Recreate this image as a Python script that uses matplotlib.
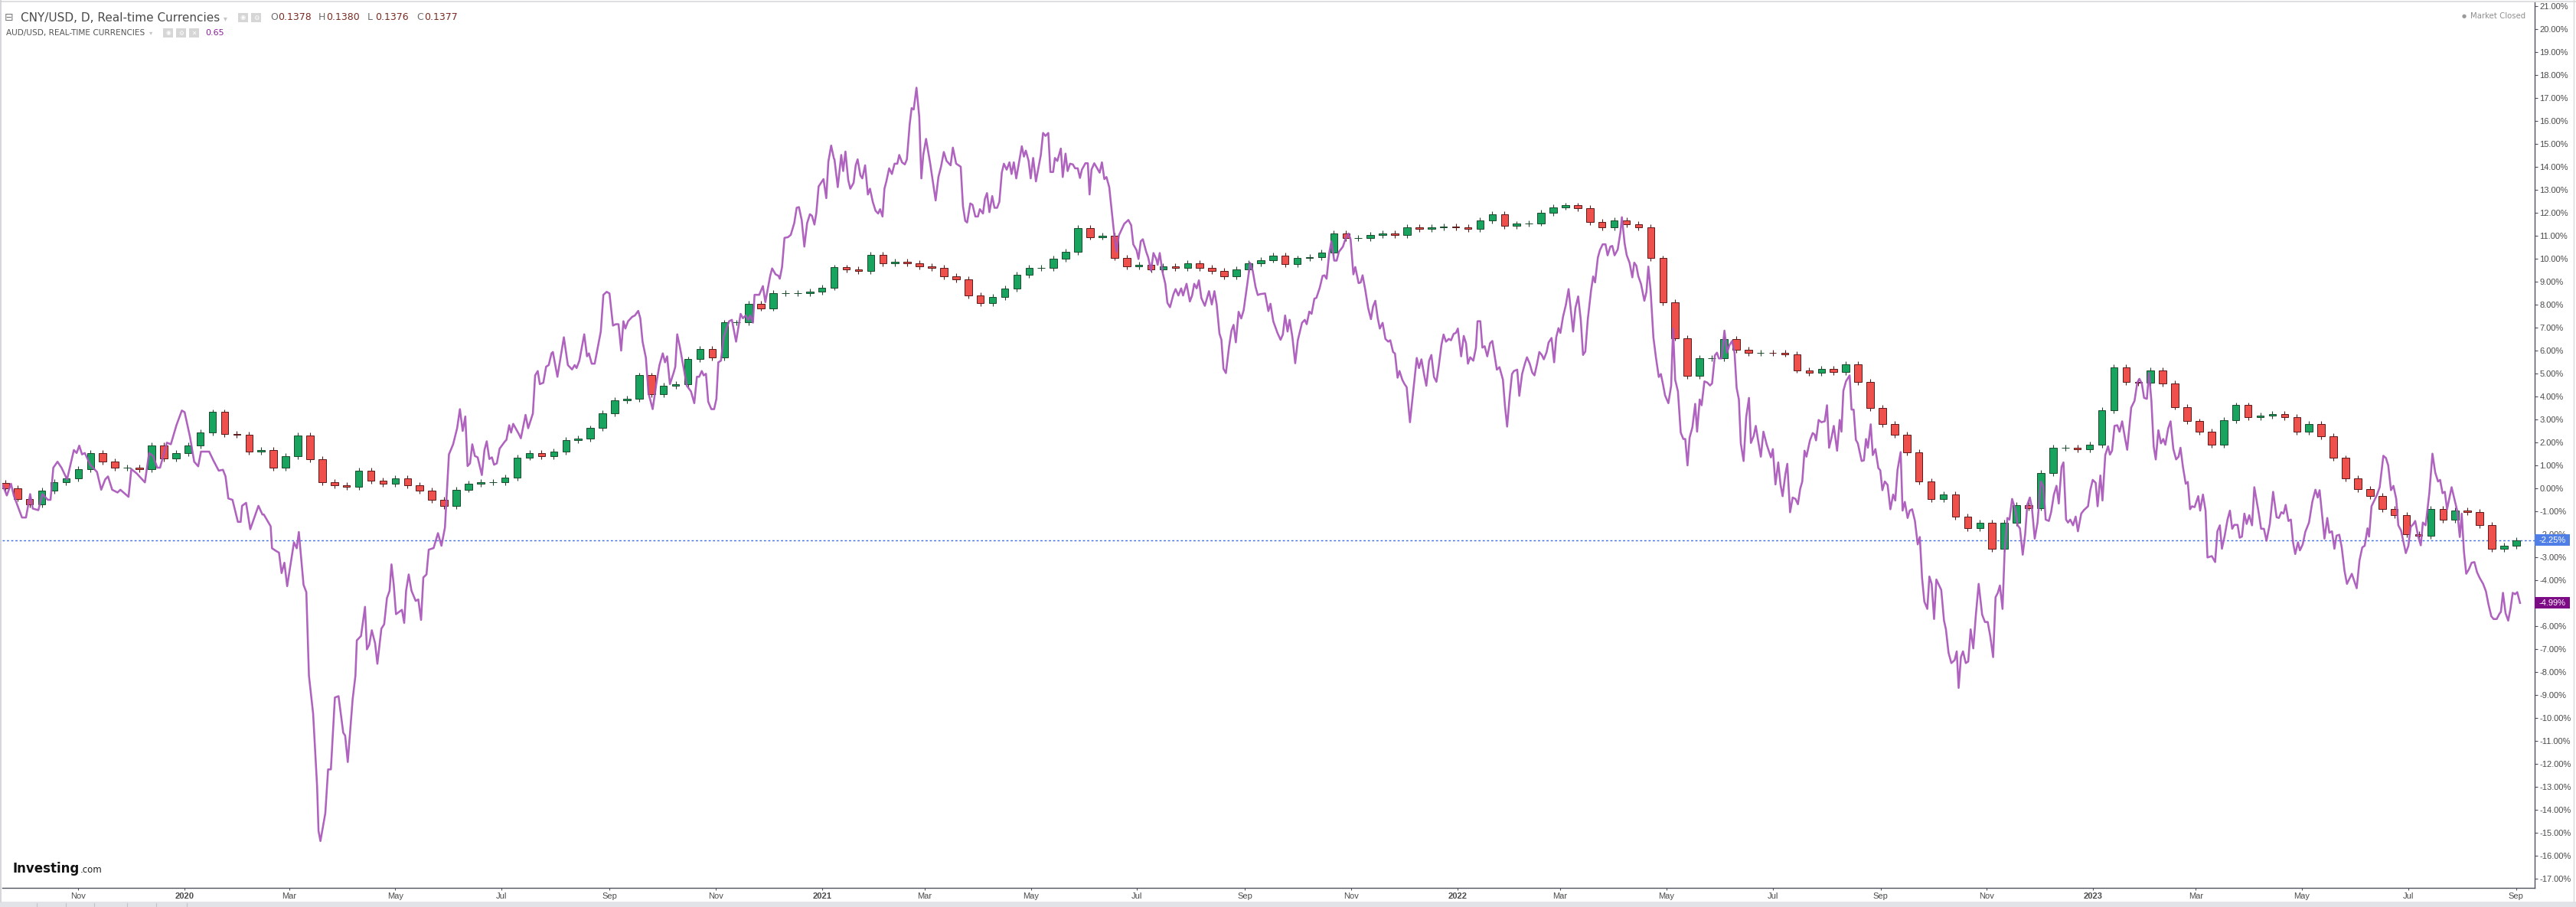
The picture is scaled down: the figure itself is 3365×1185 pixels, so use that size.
import numpy as np
import pandas as pd
import matplotlib
matplotlib.use("Agg")
import matplotlib.pyplot as plt
import matplotlib.dates as mdates
import matplotlib.transforms as mtransforms
from matplotlib.patches import Rectangle
from matplotlib.lines import Line2D

# ---------------------------------------------------------------- data
start_date = "2019-09-17"          # first bar of the chart (0 % reference)
first_week = "2019-09-20"          # first weekly candle
cny_first_open = 0.25

# CNY/USD weekly closes, % change since start
cny_close = [
    0.0, -0.45, -0.7, -0.1, 0.26, 0.42, 0.84, 1.54, 1.16, 0.9,
    0.9, 0.84, 1.86, 1.3, 1.54, 1.86, 2.43, 3.32, 2.37, 2.33,
    1.6, 1.67, 0.9, 1.41, 2.3, 1.28, 0.26, 0.13, 0.07, 0.77,
    0.33, 0.2, 0.45, 0.13, -0.1, -0.5, -0.76, -0.05, 0.2, 0.26,
    0.26, 0.46, 1.35, 1.54, 1.41, 1.6, 2.1, 2.18, 2.62, 3.26,
    3.84, 3.9, 4.92, 4.09, 4.47, 4.54, 5.62, 6.07, 5.69, 7.22,
    7.22, 8.05, 7.85, 8.49, 8.49, 8.49, 8.56, 8.75, 9.62, 9.54,
    9.48, 10.18, 9.8, 9.86, 9.8, 9.67, 9.61, 9.23, 9.1, 8.4,
    8.08, 8.33, 8.71, 9.29, 9.61, 9.61, 9.99, 10.31, 11.33, 10.95,
    11.01, 10.05, 9.67, 9.74, 9.54, 9.67, 9.61, 9.8, 9.61, 9.48,
    9.23, 9.54, 9.8, 9.95, 10.15, 9.76, 10.02, 10.06, 10.27, 11.1,
    10.91, 10.91, 11.04, 11.1, 11.04, 11.36, 11.3, 11.36, 11.4, 11.36,
    11.3, 11.68, 11.93, 11.42, 11.52, 11.55, 12.0, 12.25, 12.32, 12.21,
    11.61, 11.36, 11.68, 11.49, 11.36, 10.02, 8.11, 6.55, 4.89, 5.66,
    5.66, 6.49, 6.04, 5.91, 5.91, 5.89, 5.85, 5.15, 5.02, 5.21,
    5.08, 5.4, 4.64, 3.49, 2.79, 2.34, 1.58, 0.3, -0.46, -0.27,
    -1.23, -1.74, -1.49, -2.63, -1.49, -0.72, -0.85, 0.68, 1.77, 1.77,
    1.7, 1.9, 3.4, 5.28, 4.64, 4.61, 5.15, 4.57, 3.55, 2.92,
    2.47, 1.9, 2.98, 3.62, 3.11, 3.17, 3.23, 3.11, 2.47, 2.79,
    2.28, 1.32, 0.43, -0.02, -0.34, -0.91, -1.17, -2.0, -2.06, -0.91,
    -1.36, -0.97, -1.04, -1.61, -2.63, -2.51, -2.25,
]

# AUD/USD line: days after start_date and % change since start
aud_day_1 = [
    1.6, 3.9, 6.3, 7.9, 12.6, 14.9, 17.3, 18.8, 22.0, 24.3,
    27.5, 29.0, 30.6, 33.0, 35.3, 38.5, 42.4, 44.0, 45.5, 47.1,
    48.7, 51.8, 55.7, 58.1, 60.4, 62.0, 64.4, 67.5, 69.1, 73.8,
    75.4, 78.5, 81.6, 83.2, 85.6, 87.9, 90.3, 91.9, 95.8, 98.1,
    101.3, 104.4, 106.0, 109.1, 111.5, 113.8, 115.4, 120.1, 122.5, 125.6,
    128.0, 129.5, 131.1, 133.5, 136.6, 138.2, 139.0, 141.3, 143.7, 148.4,
    150.7, 151.5, 155.4, 156.2, 158.6, 160.2, 161.7, 163.3, 164.9, 168.8,
    170.4, 171.6, 174.3, 175.9, 177.4, 179.8, 182.1, 182.9, 184.0, 186.8,
    188.4, 190.0, 192.3, 194.4, 197.1, 198.2, 199.7, 202.5, 204.1, 204.9,
    207.3, 209.6, 210.7, 212.0, 213.5, 215.4, 216.7, 219.0, 220.6, 222.2,
    223.7, 224.8, 226.1, 227.4, 230.8, 232.1, 233.2, 234.7, 236.3, 238.7,
    240.2, 241.8, 243.1, 244.9, 246.2, 249.0, 251.5, 253.5,
]
aud_pct_1 = [
    0.14, -0.31, 0.2, -0.31, -1.27, -1.27, -0.25, -0.88, -0.95, -0.25,
    -0.5, -0.5, 0.9, 1.16, 0.9, 0.39, 1.67, 1.54, 1.86, 1.48,
    1.54, 1.03, 0.71, -0.06, 0.39, 0.52, -0.06, -0.18, -0.06, -0.37,
    0.84, 0.65, 0.39, 0.26, 1.54, 1.41, 0.9, 0.9, 1.99, 1.92,
    2.75, 3.39, 3.32, 2.24, 1.16, 0.96, 1.6, 1.6, 1.22, 0.77,
    0.81, 0.52, -0.44, -0.5, -1.46, -1.46, -0.76, -0.63, -1.78, -0.76,
    -1.14, -1.14, -1.65, -2.61, -2.73, -2.8, -3.69, -3.24, -4.26, -2.35,
    -2.61, -1.9, -4.2, -4.52, -8.16, -9.81, -13.0, -14.92, -15.36, -14.15,
    -12.24, -12.24, -9.11, -9.05, -10.64, -10.77, -11.92, -9.18, -8.16, -6.62,
    -6.43, -5.16, -7.01, -6.82, -6.18, -6.75, -7.64, -6.11, -5.92, -4.78,
    -4.46, -3.31, -4.2, -5.48, -5.29, -5.86, -4.46, -3.75, -4.46, -4.9,
    -4.84, -5.73, -3.88, -3.75, -2.67, -2.6, -1.95, -2.5,
]
aud_day_2 = [
    255.5, 257.8, 260.2, 262.5, 264.1, 265.7, 267.2, 268.5, 269.9, 271.2,
    272.7, 274.3, 276.7, 278.2, 279.5, 281.0, 282.5, 283.7, 285.3, 286.9,
    290.0, 290.8, 292.4, 293.5, 294.7, 297.9, 299.1, 301.8, 303.3, 306.0,
    307.3, 308.8, 310.0, 312.0, 313.6, 315.1, 316.7, 317.5, 320.1, 323.8,
    326.1, 328.5, 330.0, 331.1, 332.7, 335.5, 337.1, 338.2, 339.8, 341.5,
    345.0, 346.5, 348.4, 350.0, 352.0, 353.6, 355.2, 356.7, 358.0, 359.1,
    360.7, 363.0, 364.6, 366.5, 367.7, 369.0, 370.9, 372.4, 374.8, 377.1,
    378.7, 380.6, 381.9, 383.1, 384.7, 386.9, 387.8, 388.9, 390.5, 394.4,
    396.8, 398.7, 400.2, 401.5, 403.0, 404.1, 405.4, 406.7, 408.5, 410.1,
    411.4, 412.5, 414.0, 415.6, 417.2, 418.7, 420.3, 422.7, 425.3, 426.6,
    428.2, 429.7, 430.8, 432.4, 433.3, 436.0, 438.1, 439.5, 442.3, 443.4,
    445.4, 447.0, 447.8, 449.1, 450.5, 452.5, 454.1, 456.1, 457.5, 458.8,
    460.4, 461.9, 463.5, 465.1, 466.3, 467.7, 468.8, 470.1, 472.9, 474.5,
    475.7, 477.3, 478.9,
]
aud_pct_2 = [
    -1.71, 1.48, 1.92, 2.62, 3.45, 2.5, 3.13, 0.97, 1.09, 1.92,
    1.41, 1.35, 0.58, 1.67, 2.05, 1.28, 1.35, 1.03, 1.09, 1.73,
    2.05, 2.11, 2.75, 2.43, 2.81, 2.37, 2.18, 3.2, 2.62, 3.26,
    4.92, 5.11, 4.54, 4.6, 5.3, 5.37, 5.88, 5.94, 4.86, 6.58,
    5.37, 5.18, 5.37, 5.24, 5.56, 6.71, 5.75, 5.88, 5.43, 5.43,
    6.83, 8.43, 8.56, 8.49, 7.09, 7.15, 7.15, 6.0, 7.28, 6.96,
    7.28, 7.47, 7.53, 7.73, 7.41, 6.39, 5.69, 4.15, 3.45, 4.66,
    5.37, 5.88, 5.49, 5.75, 4.54, 5.05, 5.3, 6.71, 6.13, 4.47,
    4.22, 3.71, 4.86, 4.86, 5.11, 4.92, 4.99, 3.77, 3.45, 3.45,
    3.9, 5.49, 5.56, 6.58, 6.96, 7.28, 7.34, 6.39, 7.6, 7.41,
    7.53, 7.34, 7.53, 7.22, 8.43, 8.43, 8.81, 8.11, 9.26, 9.58,
    9.32, 9.26, 9.13, 9.64, 10.91, 10.94, 11.04, 11.55, 12.22, 12.25,
    11.68, 10.53, 11.55, 11.94, 11.87, 11.49, 12.0, 13.15, 13.47, 12.64,
    14.23, 14.93, 14.36,
]
aud_day_3 = [
    479.2, 481.1, 483.1, 484.2, 485.5, 487.1, 488.3, 490.2, 491.4, 492.5,
    494.1, 495.2, 496.8, 498.4, 499.6, 501.2, 502.8, 504.3, 505.4, 506.8,
    507.9, 509.0, 510.6, 512.2, 513.7, 515.3, 516.4, 518.0, 519.6, 520.8,
    522.4, 523.5, 524.7, 526.3, 527.9, 529.1, 530.2, 531.8, 534.2, 537.3,
    538.9, 540.4, 542.0, 543.6, 545.9, 547.2, 549.1, 551.7, 553.0, 554.3,
    555.4, 557.2, 558.5, 560.1, 561.6, 562.7, 564.5, 565.6, 566.8, 568.2,
    569.8, 571.1, 572.6, 573.9, 575.3, 576.5, 578.1, 579.7, 580.9, 582.2,
    583.6, 586.8, 588.0, 589.1, 590.7, 591.9, 593.3, 594.9, 597.7, 599.0,
    600.4, 602.0, 603.2, 604.8, 605.8, 607.2, 609.2, 610.3, 611.9, 613.1,
    614.5, 616.1, 617.4, 618.9, 620.2, 621.3, 623.3, 624.7, 625.7, 626.8,
    628.4, 631.5, 632.8, 634.2, 635.4, 637.0, 640.1, 641.2, 642.5, 645.6,
    648.0, 649.6, 650.8, 652.7, 653.8, 655.1, 656.3, 658.2, 659.4, 661.0,
    662.4, 664.0, 664.8, 666.0, 667.6, 669.2, 670.4, 671.9, 673.9, 675.1,
    676.7, 678.3, 679.4, 681.4, 683.3, 684.6, 685.8, 687.2, 688.5, 689.9,
    691.9, 694.3, 695.9, 697.4, 698.7, 700.3, 701.4, 702.6, 704.0, 705.8,
    707.2, 708.4, 709.7, 711.3, 712.8, 714.2, 716.3, 717.9, 719.4, 721.0,
    722.3, 723.7,
]
aud_pct_3 = [
    14.33, 13.12, 14.52, 13.82, 14.67, 13.43, 13.05, 13.31, 14.07, 14.33,
    13.63, 13.5, 14.07, 12.8, 13.05, 12.48, 12.09, 11.97, 12.16, 11.84,
    13.05, 13.37, 13.94, 13.69, 14.14, 14.14, 14.52, 14.2, 14.11, 14.33,
    15.86, 16.56, 16.5, 17.45, 16.18, 13.5, 14.52, 15.22, 14.14, 12.54,
    13.56, 14.01, 14.65, 14.26, 14.07, 14.84, 14.14, 14.01, 12.29, 11.65,
    11.58, 12.41, 12.35, 11.84, 11.84, 12.16, 11.97, 12.61, 12.86, 12.03,
    12.73, 12.22, 12.22, 12.48, 13.75, 14.14, 13.88, 14.2, 13.69, 14.2,
    13.5, 14.9, 14.45, 14.71, 14.26, 13.5, 14.39, 13.37, 14.52, 15.48,
    15.35, 15.48, 13.78, 13.78, 14.39, 14.26, 14.8, 13.56, 14.58, 13.82,
    14.14, 14.11, 13.94, 13.94, 13.52, 13.88, 14.16, 14.16, 12.8, 13.88,
    14.16, 13.75, 14.2, 13.47, 13.56, 13.12, 10.88, 10.31, 11.01, 11.52,
    11.69, 11.46, 10.63, 10.37, 9.99, 10.76, 10.85, 10.31, 10.05, 9.48,
    10.25, 9.99, 9.74, 10.25, 9.42, 8.91, 8.08, 7.89, 8.46, 8.68,
    8.4, 8.71, 8.4, 8.91, 8.14, 8.4, 8.91, 8.71, 9.06, 8.29,
    7.95, 8.59, 8.01, 8.59, 8.01, 6.74, 6.48, 5.21, 5.02, 6.16,
    6.87, 7.12, 6.36, 7.69, 7.4, 7.76, 8.91, 9.82, 9.48, 8.78,
    8.42, 8.46,
]
aud_day_4 = [
    726.5, 728.4, 729.6, 731.2, 733.6, 735.4, 736.7, 738.0, 739.4, 740.6,
    742.2, 743.8, 745.3, 747.7, 749.3, 750.4, 751.9, 753.2, 754.8, 756.0,
    757.9, 759.5, 760.6, 761.8, 763.4, 764.6, 766.2, 767.6, 768.9, 771.2,
    772.8, 774.4, 775.6, 777.2, 778.3, 780.2, 781.4, 782.5, 784.1, 785.7,
    787.3, 788.5, 789.8, 791.2, 792.4, 794.0, 795.6, 797.2, 798.4, 800.0,
    801.1, 802.6, 803.7, 805.3, 806.6, 807.8, 809.7, 811.3, 813.6, 814.9,
    816.3, 817.9, 819.1, 820.7, 822.0, 823.5, 824.9, 826.2, 827.8, 829.0,
    830.4, 832.0, 833.3, 834.8, 836.1, 837.2, 839.1, 840.6, 841.9, 843.0,
    844.3, 846.1, 847.6, 848.5, 850.1, 851.3, 852.6, 854.1, 855.7, 857.0,
    858.4, 859.6, 861.1, 863.1, 864.2, 865.5, 867.0, 868.3, 869.4, 871.3,
    872.5, 874.1, 875.7, 876.9, 878.5, 879.9, 881.2, 882.7, 884.0, 885.4,
    886.6, 888.2, 889.3, 891.0, 892.5, 893.7, 895.0, 896.1, 897.6, 899.2,
    900.8, 903.4, 904.7, 906.3, 907.8, 909.1, 910.4, 911.8, 913.7, 914.9,
    916.0, 917.6, 918.8, 920.4, 922.0, 923.2, 924.8, 925.9, 927.2, 929.0,
    930.6, 931.4, 933.0, 934.2, 935.8, 937.4, 938.5, 939.7, 940.8, 942.4,
    944.3, 945.5, 946.6, 947.9, 949.5, 951.0, 952.6, 953.8, 955.0, 956.2,
    958.1, 959.7, 960.8, 962.0, 963.6, 965.2,
]
aud_pct_4 = [
    8.49, 7.72, 8.04, 7.28, 6.77, 6.47, 6.7, 7.53, 6.83, 7.34,
    6.58, 5.45, 6.45, 7.21, 7.34, 7.15, 7.7, 7.6, 8.26, 8.3,
    8.74, 9.25, 9.28, 9.13, 10.28, 10.76, 9.92, 9.92, 10.3, 10.53,
    10.89, 11.1, 10.85, 9.32, 9.64, 8.94, 8.97, 9.28, 8.62, 7.85,
    7.37, 7.92, 8.17, 7.41, 6.96, 7.21, 6.51, 6.39, 6.45, 5.94,
    5.87, 4.82, 5.11, 4.73, 4.54, 4.41, 2.88, 4.03, 5.68, 5.24,
    5.62, 4.92, 4.47, 5.56, 5.81, 4.85, 4.64, 5.3, 6.26, 6.7,
    6.39, 6.51, 6.45, 6.73, 6.77, 6.96, 5.75, 6.64, 6.32, 5.43,
    5.71, 5.56, 6.13, 7.28, 7.28, 6.13, 6.19, 5.75, 6.32, 6.42,
    5.75, 5.17, 5.28, 4.73, 3.64, 2.69, 4.03, 4.98, 5.11, 5.17,
    4.03, 4.98, 5.43, 5.71, 5.43, 5.05, 4.92, 5.43, 5.94, 5.81,
    5.62, 5.94, 6.35, 6.55, 5.49, 6.58, 6.98, 6.77, 7.47, 7.98,
    8.68, 6.83, 7.85, 8.36, 7.34, 5.81, 5.96, 7.34, 8.62, 9.23,
    8.97, 10.05, 10.38, 10.63, 10.63, 10.15, 10.53, 10.56, 10.15, 10.4,
    11.17, 11.81, 10.66, 10.15, 9.83, 9.19, 9.83, 9.7, 9.25, 8.9,
    8.17, 8.55, 9.66, 8.62, 6.58, 5.68, 4.85, 4.98, 4.54, 4.05,
    3.71, 4.47, 6.96, 4.73, 4.22, 2.43,
]
aud_day_5 = [
    966.7, 967.8, 969.1, 970.3, 971.9, 973.5, 974.6, 976.1, 977.2, 978.8,
    980.4, 982.0, 983.2, 984.8, 986.0, 987.1, 988.7, 990.3, 991.8, 993.1,
    994.7, 996.1, 997.3, 998.6, 999.7, 1001.3, 1002.8, 1004.4, 1005.5, 1007.1,
    1008.3, 1009.9, 1011.2, 1012.7, 1014.6, 1017.0, 1018.1, 1019.6, 1021.2, 1022.5,
    1023.7, 1025.3, 1026.4, 1028.0, 1029.5, 1031.1, 1032.5, 1033.8, 1035.0, 1036.3,
    1037.4, 1039.4, 1041.0, 1042.1, 1042.9, 1044.4, 1046.0, 1047.9, 1049.2, 1050.4,
    1051.8, 1053.1, 1055.0, 1056.5, 1057.5, 1058.6, 1060.1, 1062.2, 1063.3, 1064.5,
    1065.8, 1066.9, 1069.1, 1070.4, 1071.6, 1072.7, 1074.3, 1075.5, 1077.0, 1078.7,
    1079.8, 1081.0, 1082.4, 1084.0, 1085.6, 1087.2, 1088.4, 1089.7, 1091.5, 1092.6,
    1093.9, 1095.5, 1096.7, 1098.1, 1099.7, 1101.3, 1102.5, 1103.8, 1105.1, 1106.8,
    1108.0, 1109.3, 1110.7, 1112.0, 1114.8, 1116.4, 1117.5, 1119.0, 1120.6, 1122.5,
    1123.7, 1124.8, 1126.1, 1127.3, 1128.9, 1130.3, 1131.7, 1133.2, 1134.7, 1136.3,
    1138.3, 1139.9, 1141.5, 1143.0, 1144.6, 1146.0, 1147.3, 1148.5, 1150.0, 1151.2,
    1152.8, 1154.0, 1155.5, 1157.5, 1158.7, 1160.0, 1161.6, 1163.0, 1164.2, 1165.7,
    1166.9, 1168.5, 1170.1, 1172.0, 1173.5, 1174.8, 1176.6, 1177.9, 1179.5, 1181.0,
    1182.3, 1183.9, 1185.0, 1186.5, 1187.6, 1188.9, 1190.5, 1192.0, 1193.3, 1195.2,
    1196.7, 1199.1, 1200.4, 1201.8, 1203.5, 1204.6, 1206.2, 1207.4,
]
aud_pct_5 = [
    2.15, 2.15, 1.0, 2.21, 2.66, 3.68, 2.47, 3.87, 3.62, 4.66,
    4.61, 4.48, 4.57, 5.79, 5.91, 5.66, 5.66, 6.87, 5.91, 6.23,
    6.42, 5.91, 4.38, 3.87, 1.96, 1.19, 3.11, 3.94, 1.98, 2.28,
    2.72, 1.96, 1.38, 2.47, 1.9, 1.35, 1.71, 0.17, 1.13, 0.17,
    -0.34, 0.62, 1.07, -1.04, -0.4, -0.46, -0.69, -0.02, 0.3, 1.64,
    1.38, 2.09, 2.41, 2.34, 2.09, 2.98, 2.88, 2.92, 3.62, 1.77,
    2.21, 2.72, 1.64, 2.98, 2.47, 4.25, 4.66, 4.92, 3.43, 3.43,
    2.11, 1.96, 1.19, 1.22, 2.15, 1.77, 2.79, 1.45, 1.71, 0.88,
    0.79, -0.08, 0.3, 0.15, -0.91, -0.27, -0.53, 0.81, 1.58, -0.97,
    -0.59, -1.29, -0.97, -0.91, -1.42, -2.44, -2.12, -3.91, -4.93, -5.25,
    -3.84, -4.16, -5.69, -3.97, -4.42, -5.76, -6.14, -7.16, -7.61, -7.48,
    -7.1, -8.69, -7.35, -7.1, -7.61, -7.54, -6.14, -6.97, -5.5, -4.16,
    -5.5, -5.82, -5.82, -6.46, -7.35, -4.74, -4.55, -4.23, -5.25, -2.76,
    -1.29, -1.36, -0.46, -0.97, -1.61, -1.74, -2.89, -2.0, -0.72, -0.4,
    -0.85, -2.19, -1.49, 0.3, 0.07, -1.36, -1.42, -1.04, -0.27, 0.11,
    -0.66, 0.94, 1.13, -1.36, -1.49, -1.36, -1.61, -1.23, -1.87, -1.1,
    -0.95, -0.78, -0.08, 0.37, 0.24, -0.78, 0.56, -0.53,
]
aud_day_6 = [
    1209.0, 1210.6, 1211.7, 1212.9, 1214.3, 1215.9, 1217.2, 1218.7, 1220.3, 1221.6,
    1223.9, 1225.8, 1227.4, 1228.6, 1230.0, 1231.3, 1232.9, 1234.1, 1235.5, 1236.8,
    1238.0, 1239.5, 1241.0, 1242.3, 1243.5, 1245.1, 1246.5, 1248.1, 1249.7, 1251.1,
    1252.2, 1253.6, 1255.2, 1256.4, 1257.7, 1258.8, 1260.3, 1262.4, 1263.5, 1265.1,
    1266.6, 1267.7, 1270.2, 1272.1, 1273.4, 1274.8, 1276.0, 1277.6, 1279.2, 1280.6,
    1281.9, 1283.1, 1285.0, 1286.2, 1287.5, 1288.9, 1290.2, 1291.7, 1293.3, 1294.6,
    1297.2, 1298.5, 1300.1, 1301.6, 1303.5, 1305.4, 1307.4, 1308.7, 1310.1, 1311.4,
    1312.6, 1314.2, 1315.6, 1316.9, 1318.1, 1319.7, 1320.8, 1322.4, 1323.9, 1326.0,
    1327.9, 1329.7, 1331.0, 1332.1, 1333.7, 1334.9, 1336.5, 1337.7, 1339.2, 1340.6,
    1341.8, 1343.4, 1344.8, 1346.4, 1347.8, 1350.6, 1353.4, 1355.0, 1356.6, 1358.0,
    1359.6, 1360.5, 1361.9, 1363.5, 1365.1, 1366.6, 1368.7, 1370.2, 1371.5, 1373.1,
    1374.5, 1376.1, 1377.3, 1378.9, 1381.6, 1383.1, 1384.4, 1386.0, 1387.0, 1388.6,
    1390.2, 1391.4, 1393.0, 1395.1, 1396.9, 1398.5, 1400.1, 1401.3, 1402.7, 1404.0,
    1405.3, 1406.7, 1407.9, 1409.5, 1411.1, 1412.6, 1413.7, 1415.0, 1416.3, 1417.8,
    1419.4, 1421.0, 1422.5, 1424.1, 1426.0, 1427.6, 1429.1, 1430.7, 1432.0, 1433.8,
    1435.4, 1436.2, 1437.4, 1438.9, 1440.4, 1441.7, 1443.0, 1444.4, 1445.6, 1447.2,
]
aud_pct_6 = [
    1.45, 1.83, 1.47, 1.64, 2.72, 2.75, 2.47, 2.92, 2.21, 1.68,
    3.52, 3.81, 4.61, 4.77, 4.57, 3.94, 3.9, 5.02, 3.81, 1.83,
    1.26, 2.53, 1.96, 2.15, 1.9, 2.6, 2.92, 1.71, 1.26, 1.38,
    1.77, 0.94, 0.2, 0.28, -0.91, -0.78, -0.82, -0.34, -0.97, -0.27,
    -0.97, -3.01, -2.95, -3.21, -1.87, -1.61, -2.63, -2.06, -1.36, -0.97,
    -1.76, -1.59, -1.59, -2.15, -2.1, -1.1, -1.55, -1.17, -1.61, 0.05,
    -1.1, -1.76, -1.76, -2.28, -1.55, -0.15, -1.26, -1.29, -1.04, -1.1,
    -0.72, -1.42, -1.36, -2.38, -2.86, -2.35, -2.7, -2.44, -1.89, -1.49,
    -0.59, -0.06, -0.4, -0.08, -1.29, -2.19, -1.29, -1.93, -1.87, -2.63,
    -2.06, -2.02, -2.57, -3.59, -4.16, -3.72, -4.35, -3.14, -2.57, -2.5,
    -1.74, -2.1, -0.78, -0.53, -0.27, 0.05, 1.42, 1.32, 1.0, -0.08,
    0.11, -0.46, -1.61, -1.84, -2.82, -2.5, -1.68, -1.55, -1.42, -2.06,
    -2.48, -1.49, -1.61, -0.21, 1.51, 0.69, 0.3, 0.37, -0.21, -0.15,
    -0.91, -0.4, 0.05, -0.46, -0.97, -2.12, -1.1, -2.76, -3.72, -3.53,
    -3.24, -3.21, -3.65, -3.91, -4.16, -4.48, -5.06, -5.57, -5.69, -5.69,
    -5.46, -5.38, -4.55, -5.44, -5.76, -5.25, -4.55, -4.61, -4.52, -4.99,
]

month_ticks = [
    "2019-11-01", "2020-01-01", "2020-03-01", "2020-05-01", "2020-07-01", "2020-09-01",
    "2020-11-01", "2021-01-01", "2021-03-01", "2021-05-01", "2021-07-01", "2021-09-01",
    "2021-11-01", "2022-01-01", "2022-03-01", "2022-05-01", "2022-07-01", "2022-09-01",
    "2022-11-01", "2023-01-01", "2023-03-01", "2023-05-01", "2023-07-01", "2023-09-01",
]
month_labels = [
    "Nov", "2020", "Mar", "May", "Jul", "Sep",
    "Nov", "2021", "Mar", "May", "Jul", "Sep",
    "Nov", "2022", "Mar", "May", "Jul", "Sep",
    "Nov", "2023", "Mar", "May", "Jul", "Sep",
]
y_ticks = list(range(-17, 22))
cny_last = -2.25
aud_last = -4.99
main_title = "CNY/USD, D, Real-time Currencies"
sub_title = "AUD/USD, REAL-TIME CURRENCIES"
ohlc_keys = ["O", "H", "L", "C"]
ohlc_vals = ["0.1378", "0.1380", "0.1376", "0.1377"]
aud_value = "0.65"

# segment sanity checks
for d, p in ((aud_day_1, aud_pct_1), (aud_day_2, aud_pct_2), (aud_day_3, aud_pct_3),
             (aud_day_4, aud_pct_4), (aud_day_5, aud_pct_5), (aud_day_6, aud_pct_6)):
    assert len(d) == len(p), (len(d), len(p))

aud_day = aud_day_1 + aud_day_2 + aud_day_3 + aud_day_4 + aud_day_5 + aud_day_6
aud_pct = aud_pct_1 + aud_pct_2 + aud_pct_3 + aud_pct_4 + aud_pct_5 + aud_pct_6

# ---------------------------------------------------------------- figure
W, H, DPI = 3365, 1185, 100
fig = plt.figure(figsize=(W / DPI, H / DPI), dpi=DPI, facecolor="white")
PL, PR, PT, PB = 3, 3311, 3, 1160
ax = fig.add_axes([PL / W, 1 - PB / H, (PR - PL) / W, (PB - PT) / H])
ax.set_facecolor("white")

t0 = mdates.date2num(pd.Timestamp(start_date))
ax.set_xlim(t0 + 1.3, t0 + 1455.6)
ax.set_ylim(-17.4, 21.17)

# candles
xc = mdates.date2num(pd.date_range(first_week, periods=len(cny_close), freq="7D"))
closes = np.array(cny_close, dtype=float)
opens = np.concatenate([[cny_first_open], closes[:-1]])
up = closes >= opens
WICK = 0.13
hi = np.maximum(opens, closes) + WICK
lo = np.minimum(opens, closes) - WICK
UP_FACE, UP_EDGE = "#18a45f", "#1b4a2c"
DN_FACE, DN_EDGE = "#f0504c", "#5a1a1a"
edges = np.where(up, UP_EDGE, DN_EDGE)
faces = np.where(up, UP_FACE, DN_FACE)
ax.vlines(xc, lo, hi, colors=list(edges), linewidth=0.8, zorder=3)
ax.bar(xc, closes - opens, bottom=opens, width=4.2, color=list(faces),
       edgecolor=list(edges), linewidth=0.7, zorder=4)

# AUD/USD line
ax.plot(t0 + np.array(aud_day), aud_pct, color="#a856ba", lw=1.85, alpha=0.92,
        zorder=5, solid_joinstyle="round")

# last-price dotted line
ax.axhline(cny_last, color="#3d6be2", lw=1.0, ls=(0, (2, 2)), zorder=2)

# axes styling
for s in ("top", "left"):
    ax.spines[s].set_visible(False)
for s in ("right", "bottom"):
    ax.spines[s].set_color("#50535e")
    ax.spines[s].set_linewidth(1.0)

ax.yaxis.tick_right()
ax.set_yticks(y_ticks)
ax.set_yticklabels([f"{v:.2f}%" for v in y_ticks])
ax.tick_params(axis="y", direction="out", length=3, width=0.8, colors="#50535e",
               labelcolor="#4a4a4a", labelsize=8, pad=1.5)
ax.set_xticks(mdates.date2num(pd.to_datetime(month_ticks)))
ax.set_xticklabels(month_labels)
ax.tick_params(axis="x", direction="out", length=2.5, width=0.8, colors="#50535e",
               labelcolor="#4a4a4a", labelsize=8, pad=2)
for lab in ax.get_xticklabels() + ax.get_yticklabels():
    lab.set_fontfamily("Liberation Sans")
for lab in ax.get_xticklabels():
    if lab.get_text().isdigit():
        lab.set_fontweight("bold")

# last value boxes on the price scale
trans = mtransforms.blended_transform_factory(ax.transAxes, ax.transData)
box_w = 46 / (PR - PL)
for val, col in ((cny_last, "#4f7fe6"), (aud_last, "#7d0b86")):
    ax.add_patch(Rectangle((1.0, val - 0.25), box_w, 0.5, transform=trans,
                           facecolor=col, edgecolor="none", clip_on=False, zorder=10))
    ax.text(1.0 + box_w / 2, val, f"{val:.2f}%", transform=trans, ha="center",
            va="center", color="white", fontsize=8, family="Liberation Sans", zorder=11)


# ---------------------------------------------------------------- figure decor
def fx(x):
    return x / W


def fy(y):
    return 1 - y / H


def frect(x, y, w, h, color):
    fig.add_artist(Rectangle((fx(x), fy(y + h)), w / W, h / H, transform=fig.transFigure,
                             facecolor=color, edgecolor="none"))


def fline(x0, y0, x1, y1, color, lw=1.0):
    fig.add_artist(Line2D([fx(x0), fx(x1)], [fy(y0), fy(y1)], transform=fig.transFigure,
                          color=color, lw=lw))


fline(0, 1.5, W, 1.5, "#d9d9dc", 1.2)
fline(1, 0, 1, 1178, "#d0d0d4", 1.2)
fline(3362, 0, 3362, 1178, "#d9d9dc", 1.0)
frect(0, 1178, W, 7, "#e2e3e8")
for sx in (48, 86, 123, 166, 204, 244):
    fline(sx, 1180, sx, 1185, "#c2c3c8", 0.8)

# legend line 1
fig.text(fx(6), fy(23), "\u229f", fontsize=10, color="#777777", va="center", family="DejaVu Sans")
fig.text(fx(27), fy(23), main_title, fontsize=11, color="#4a4a4a", va="center", family="DejaVu Sans")
fig.text(fx(292), fy(24), "\u25be", fontsize=7, color="#c4c4c4", va="center", family="DejaVu Sans")
for ix, glyph in ((311, "\u25c9"), (328, "\u2699")):
    frect(ix, 17, 13, 12, "#d6d6d6")
    fig.text(fx(ix + 6.5), fy(23), glyph, fontsize=6, color="white", ha="center", va="center",
             family="DejaVu Sans")
for kx, vx, k, v in zip((353, 416, 480, 544), (363, 426, 490, 554), ohlc_keys, ohlc_vals):
    fig.text(fx(kx), fy(23), k, fontsize=9, color="#6e6e6e", va="center", family="DejaVu Sans")
    fig.text(fx(vx), fy(23), v, fontsize=9, color="#7a2b22", va="center", family="DejaVu Sans")

# legend line 2
fig.text(fx(8), fy(43), sub_title, fontsize=7.6, color="#555555", va="center", family="DejaVu Sans")
fig.text(fx(195), fy(43), "\u25be", fontsize=6, color="#c4c4c4", va="center", family="DejaVu Sans")
for ix, glyph in ((213, "\u25c9"), (230, "\u2699"), (247, "\u2715")):
    frect(ix, 37, 13, 12, "#d6d6d6")
    fig.text(fx(ix + 6.5), fy(43), glyph, fontsize=5.5, color="white", ha="center", va="center",
             family="DejaVu Sans")
fig.text(fx(268), fy(43), aud_value, fontsize=8, color="#8a1e9b", va="center", family="DejaVu Sans")

# market status
fig.text(fx(3216), fy(21), "\u25cf", fontsize=5, color="#9a9a9a", va="center", family="DejaVu Sans")
fig.text(fx(3227), fy(21), "Market Closed", fontsize=7.3, color="#8e8e8e", va="center",
         family="DejaVu Sans")

# watermark logo
fig.text(fx(16), fy(1140), "Investing", fontsize=12, weight="bold", color="#111111",
         va="baseline", family="DejaVu Sans")
fig.text(fx(105), fy(1140), ".com", fontsize=8.5, color="#222222", va="baseline",
         family="DejaVu Sans")

fig.savefig("out.png", dpi=DPI, facecolor="white")
